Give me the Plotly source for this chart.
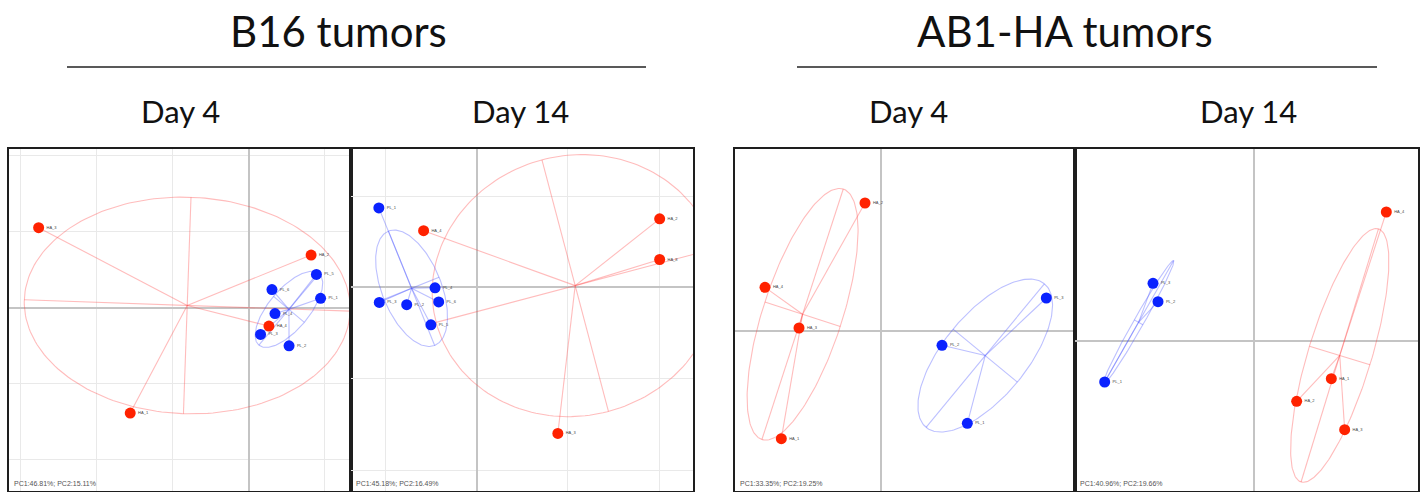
import numpy as np
import plotly.graph_objects as go

W, H = 1422, 492

# ---- PCA scores (PC1, PC2) per group ----
# B16 tumors, day 4
b16_d4_ha_x = [-55.3, 16.4, 5.3, -31.2]
b16_d4_ha_y = [21.1, 13.9, -4.8, -27.7]
b16_d4_ha_lab = ["HA_3", "HA_2", "HA_4", "HA_1"]
b16_d4_pl_x = [17.8, 18.9, 6.1, 6.9, 3.1, 10.6]
b16_d4_pl_y = [8.8, 2.5, 4.8, -1.5, -7.0, -10.0]
b16_d4_pl_lab = ["PL_5", "PL_1", "PL_6", "PL_4", "PL_3", "PL_2"]

# B16 tumors, day 14
b16_d14_ha_x = [40.1, 40.1, -11.6, 17.8]
b16_d14_ha_y = [15.0, 6.1, 12.4, -32.0]
b16_d14_ha_lab = ["HA_2", "HA_8", "HA_4", "HA_3"]
b16_d14_pl_x = [-21.4, -9.1, -21.3, -15.3, -8.3, -10.0]
b16_d14_pl_y = [17.4, -0.1, -3.3, -3.8, -3.2, -8.2]
b16_d14_pl_lab = ["PL_1", "PL_4", "PL_3", "PL_2", "PL_6", "PL_5"]

# AB1-HA tumors, day 4
ab1_d4_ha_x = [-4.7, -34.7, -24.5, -29.8]
ab1_d4_ha_y = [38.5, 13.2, 1.0, -32.2]
ab1_d4_ha_lab = ["HA_2", "HA_4", "HA_3", "HA_1"]
ab1_d4_pl_x = [49.7, 18.4, 26.0]
ab1_d4_pl_y = [10.0, -4.2, -27.6]
ab1_d4_pl_lab = ["PL_3", "PL_2", "PL_1"]

# AB1-HA tumors, day 14
ab1_d14_ha_x = [39.7, 23.2, 12.8, 27.2]
ab1_d14_ha_y = [38.8, -11.2, -18.0, -26.5]
ab1_d14_ha_lab = ["HA_4", "HA_1", "HA_2", "HA_3"]
ab1_d14_pl_x = [-30.3, -28.8, -44.8]
ab1_d14_pl_y = [17.4, 11.9, -12.2]
ab1_d14_pl_lab = ["PL_3", "PL_2", "PL_1"]

# confidence ellipses: semi-major, semi-minor, angle (deg)
b16_d4_ha_ell = [42.9, 28.5, -2.0]
b16_d4_pl_ell = [12.3, 5.3, 50.0]
b16_d14_ha_ell = [31.5, 28.5, 14.8]
b16_d14_pl_ell = [13.5, 6.5, 112.0]
ab1_d4_ha_ell = [39.5, 11.9, 72.0]
ab1_d4_pl_ell = [27.9, 12.5, 50.5]
ab1_d14_ha_ell = [39.7, 9.5, 73.0]
ab1_d14_pl_ell = [21.3, 1.5, 60.4]

variance_text = [
    "PC1:46.81%; PC2:15.11%",
    "PC1:45.18%; PC2:16.49%",
    "PC1:33.35%; PC2:19.25%",
    "PC1:40.96%; PC2:19.66%",
]

group_titles = ["B16 tumors", "AB1-HA tumors"]
day_titles = ["Day 4", "Day 14", "Day 4", "Day 14"]

# ---- panel geometry (pixels) and axis ranges ----
panel_px = [(9, 351), (351, 693), (735, 1075), (1075, 1418)]
panel_top, panel_bottom = 149, 491
x_ranges = [(-63.1, 26.9), (-27.5, 47.4), (-43.7, 58.3), (-53.7, 49.2)]
y_ranges = [(-48.2, 41.8), (-44.6, 30.3), (-47.9, 54.7), (-44.9, 57.7)]
show_grid = [True, True, False, False]

RED = "#ff2200"
BLUE = "#0a22ff"
RED_LINE = "rgba(255,70,70,0.36)"
BLUE_LINE = "rgba(70,80,255,0.36)"

panels = [
    dict(ha=(b16_d4_ha_x, b16_d4_ha_y, b16_d4_ha_lab, b16_d4_ha_ell),
         pl=(b16_d4_pl_x, b16_d4_pl_y, b16_d4_pl_lab, b16_d4_pl_ell)),
    dict(ha=(b16_d14_ha_x, b16_d14_ha_y, b16_d14_ha_lab, b16_d14_ha_ell),
         pl=(b16_d14_pl_x, b16_d14_pl_y, b16_d14_pl_lab, b16_d14_pl_ell)),
    dict(ha=(ab1_d4_ha_x, ab1_d4_ha_y, ab1_d4_ha_lab, ab1_d4_ha_ell),
         pl=(ab1_d4_pl_x, ab1_d4_pl_y, ab1_d4_pl_lab, ab1_d4_pl_ell)),
    dict(ha=(ab1_d14_ha_x, ab1_d14_ha_y, ab1_d14_ha_lab, ab1_d14_ha_ell),
         pl=(ab1_d14_pl_x, ab1_d14_pl_y, ab1_d14_pl_lab, ab1_d14_pl_ell)),
]


def ellipse_traces(xs, ys, ell, line_color, xa, ya):
    """Ellipse outline, its two axes and spokes from the centroid."""
    cx, cy = float(np.mean(xs)), float(np.mean(ys))
    a, b, ang = ell
    th = np.radians(ang)
    t = np.linspace(0, 2 * np.pi, 200)
    ex = cx + a * np.cos(t) * np.cos(th) - b * np.sin(t) * np.sin(th)
    ey = cy + a * np.cos(t) * np.sin(th) + b * np.sin(t) * np.cos(th)
    out = [go.Scatter(x=ex, y=ey, mode="lines", xaxis=xa, yaxis=ya,
                      line=dict(color=line_color, width=1.1),
                      hoverinfo="skip", showlegend=False)]
    lx, ly = [], []
    for px, py in zip(xs, ys):
        lx += [cx, px, None]
        ly += [cy, py, None]
    ux, uy = np.cos(th), np.sin(th)
    lx += [cx - a * ux, cx + a * ux, None, cx + b * uy, cx - b * uy, None]
    ly += [cy - a * uy, cy + a * uy, None, cy - b * ux, cy + b * ux, None]
    out.append(go.Scatter(x=lx, y=ly, mode="lines", xaxis=xa, yaxis=ya,
                          line=dict(color=line_color, width=1.1),
                          hoverinfo="skip", showlegend=False))
    return out


fig = go.Figure()
layout = dict(width=W, height=H, margin=dict(l=0, r=0, t=0, b=0),
              paper_bgcolor="white", plot_bgcolor="white", showlegend=False)

annotations = []
for i, p in enumerate(panels):
    k = "" if i == 0 else str(i + 1)
    xa, ya = "x" + k, "y" + k
    x0, x1 = panel_px[i]
    layout["xaxis" + k] = dict(
        domain=[x0 / W, x1 / W], range=list(x_ranges[i]), anchor=ya,
        showticklabels=False, ticks="", showgrid=show_grid[i], dtick=20, tick0=0,
        gridcolor="#e9e9e9", gridwidth=1, zeroline=True, zerolinecolor="#c4c4c4",
        zerolinewidth=1.5, showline=True, mirror=True, linecolor="#1e1e1e",
        linewidth=2, fixedrange=True)
    layout["yaxis" + k] = dict(
        domain=[1 - panel_bottom / H, 1 - panel_top / H], range=list(y_ranges[i]),
        anchor=xa, showticklabels=False, ticks="", showgrid=show_grid[i],
        dtick=20, tick0=0, gridcolor="#e9e9e9", gridwidth=1, zeroline=True,
        zerolinecolor="#c4c4c4", zerolinewidth=1.5, showline=True, mirror=True,
        linecolor="#1e1e1e", linewidth=2, fixedrange=True)

    for key, lc in (("ha", RED_LINE), ("pl", BLUE_LINE)):
        xs, ys, _, ell = p[key]
        for tr in ellipse_traces(xs, ys, ell, lc, xa, ya):
            fig.add_trace(tr)
    for key, mc in (("pl", BLUE), ("ha", RED)):
        xs, ys, labs, _ = p[key]
        fig.add_trace(go.Scatter(
            x=xs, y=ys, mode="markers+text", text=labs,
            textposition="middle right", xaxis=xa, yaxis=ya,
            textfont=dict(size=4, color="#444444", family="Liberation Sans"),
            marker=dict(color=mc, size=11, line=dict(width=0)),
            cliponaxis=False, showlegend=False))

    annotations.append(dict(
        text=variance_text[i], xref="paper", yref="paper",
        x=(x0 + 3) / W, y=1 - 489 / H, xanchor="left", yanchor="bottom",
        showarrow=False, font=dict(size=7, color="#555555",
                                   family="Liberation Sans")))

# headers
title_x = [338, 1065]
for t, cx in zip(group_titles, title_x):
    annotations.append(dict(text=t, xref="paper", yref="paper", x=cx / W,
                            y=1 - 31 / H, xanchor="center", yanchor="middle",
                            showarrow=False,
                            font=dict(size=42, color="#111111", family="Lato")))
day_x = [180, 520, 908, 1248]
for t, cx in zip(day_titles, day_x):
    annotations.append(dict(text=t, xref="paper", yref="paper", x=cx / W,
                            y=1 - 111 / H, xanchor="center", yanchor="middle",
                            showarrow=False,
                            font=dict(size=31, color="#111111", family="Lato")))

shapes = []
for lx0, lx1 in ((67, 646), (797, 1377)):
    shapes.append(dict(type="line", xref="paper", yref="paper",
                       x0=lx0 / W, x1=lx1 / W, y0=1 - 67 / H, y1=1 - 67 / H,
                       line=dict(color="#222222", width=1.5)))

layout["annotations"] = annotations
layout["shapes"] = shapes
fig.update_layout(**layout)
fig.write_html("out.html")
